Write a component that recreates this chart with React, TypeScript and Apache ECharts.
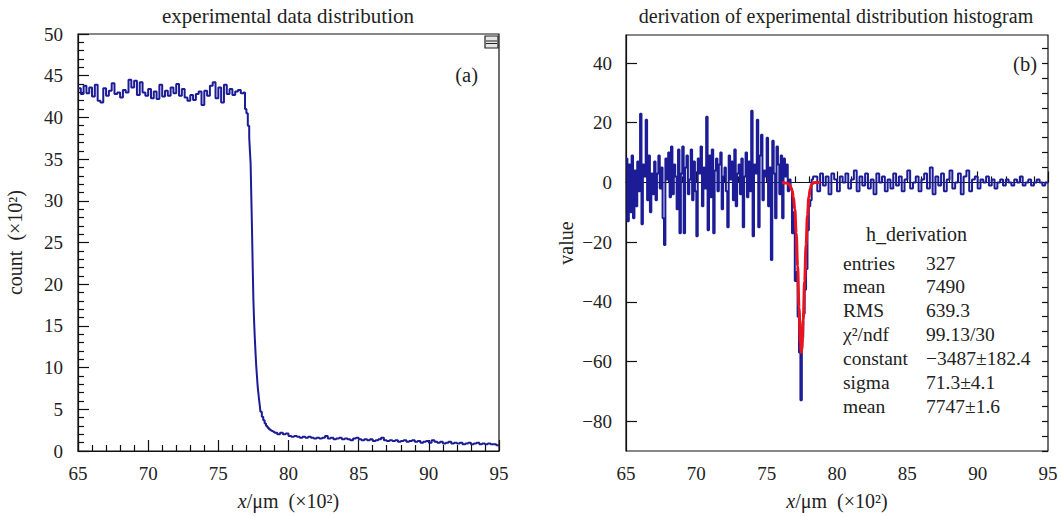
import React, { useEffect, useRef } from 'react';
import * as echarts from 'echarts';

const FONT = "'Liberation Serif', 'Times New Roman', serif";
const TEXT = '#222';
const BLUE = '#1c1c96';
const RED = '#e8141e';

// ---------- panel (a): experimental data distribution (counts ×10²) ----------
const plateauStart = 65.0;
const plateauBin = 0.2;
const plateauCounts = [
  43.5, 42.8, 43.8, 42.9, 43.6, 42.5, 43.9, 42.0, 41.8, 43.5,
  42.6, 43.2, 44.1, 42.8, 43.0, 42.4, 43.3, 43.0, 44.5, 43.6,
  44.4, 42.7, 44.2, 43.0, 42.6, 43.4, 42.3, 43.1, 42.2, 43.9,
  42.5, 43.2, 42.6, 43.6, 42.9, 44.0, 42.6, 43.4, 42.4, 42.0,
  42.7, 42.1, 42.8, 43.1, 41.5, 43.2, 42.6, 43.8, 44.2, 42.3,
  43.6, 41.8, 43.9, 42.8, 43.4, 42.7, 43.1, 43.3, 42.9,
];
const edgeX = [
  76.8, 76.9, 77.0, 77.1, 77.2, 77.25, 77.3, 77.35, 77.4, 77.45,
  77.5, 77.55, 77.6, 77.65, 77.7, 77.75, 77.8, 77.85, 77.9, 77.95,
  78.0, 78.1, 78.2, 78.3, 78.4, 78.5, 78.6, 78.7, 78.8, 78.9,
];
const edgeCounts = [
  43.0, 41.0, 40.5, 39.0, 37.6, 36.0, 34.5, 30.5, 26.5, 22.0,
  18.0, 15.5, 13.5, 11.8, 10.2, 9.0, 7.8, 7.0, 6.2, 5.5,
  4.7, 4.1, 3.7, 3.3, 3.0, 2.8, 2.6, 2.5, 2.4, 2.3,
];
const tailStart = 79.0;
const tailBin = 0.2;
const tailCounts = [
  2.2, 2.0, 2.2, 2.0, 2.1, 1.8, 1.7, 1.8, 1.7, 1.6,
  1.7, 1.6, 1.7, 1.6, 1.5, 1.6, 1.5, 1.6, 1.8, 1.5,
  1.6, 1.4, 1.5, 1.6, 1.4, 1.5, 1.4, 1.3, 1.5, 1.6,
  1.4, 1.3, 1.4, 1.3, 1.4, 1.2, 1.3, 1.4, 1.6, 1.3,
  1.2, 1.3, 1.2, 1.3, 1.1, 1.2, 1.3, 1.1, 1.2, 1.3,
  1.1, 1.2, 1.0, 1.1, 1.2, 1.0, 1.3, 1.1, 1.0, 1.1,
  0.9, 1.0, 1.1, 0.9, 1.0, 0.9, 1.0, 0.8, 0.9, 1.0,
  0.8, 0.9, 1.0, 0.8, 0.9, 0.8, 0.9, 0.8, 0.8, 0.7,
];

// ---------- panel (b): derivative histogram ----------
const derivFineStart = 65.0;
const derivFineBin = 0.1;
const derivFine = [
  8, -13, 6, -10, 9, -12, 4, -8, 7, -3,
  23, -14, 6, 2, 21, -6, 9, -10, 3, -4,
  7, -6, 3, 9, -2, 5, -12, -21, 8, 1,
  10, -5, 12, -4, 6, 2, -9, 11, -17, 3,
  12, -17, 5, 9, -4, 1, 11, -6, 7, -3,
  -18, 8, 3, 12, -8, 5, -2, 22, -16, 9,
  -5, 11, -17, 4, 8, -3, 6, 10, -9, 2,
  5, -3, -15, 9, 1, 7, -6, 11, -8, 3,
  6, -4, 8, -15, 2, 10, -5, 7, -3, 24,
  -18, 6, 3, 21, -15, 9, 16, -6, 4, 2,
  15, -8, 5, -26, 14, 3, -12, 12, 6, -4,
  9, -12, 8, 2, 6, -3,
  1, -2, -17, -10, -33, -30, -45, -57, -73, -52,
  -44, -36, -29, -16, -8, -6, 1, 2,
];
const derivTailStart = 78.4;
const derivTailBin = 0.2;
const derivTail = [
  2, -3, 3, -1, 2, -4, 3, 1,
  -3, 2, 0, 3, -2, 1, 4, -3, 2, -1,
  3, -2, 1, -4, 3, 0, 2, -3, 1, -2,
  3, -1, 2, -3, 1, 4, -2, 0, 2, -3,
  1, 3, -2, 5, -4, 2, -1, 3, -3, 1,
  4, -2, 0, 3, -4, 2, 4, -3, 1, 2,
  -2, 1, 0, 2, -1, 1, -2, 0, 1, -1,
  1, 0, -1, 1, 0, 2, -1, 0, 1, -1,
  0, 1, 0, -1, 0,
];
const fitX = [76.1, 76.4, 76.6, 76.8, 76.9, 77.0, 77.1, 77.2, 77.3, 77.4, 77.45, 77.5, 77.6, 77.7, 77.8, 77.9, 78.0, 78.1, 78.2, 78.4, 78.8];
const fitY = [0, -0.2, -0.6, -2.5, -5, -9, -17, -28, -42, -54, -57, -56, -46, -33, -21, -11, -5, -2, -0.6, 0, 0];

const statLabels = ['entries', 'mean', 'RMS', 'χ²/ndf', 'constant', 'sigma', 'mean'];
const statValues = ['327', '7490', '639.3', '99.13/30', '−3487±182.4', '71.3±4.1', '7747±1.6'];

const xRange = [65, 95];
const rightYLabels = [-80, -60, -40, -20, 0, 20, 40];
const rightYMinor = [-90, -85, -80, -75, -70, -65, -60, -55, -50, -45, -40, -35, -30, -25, -20, -15, -10, -5, 0, 5, 10, 15, 20, 25, 30, 35, 40, 45];

function leftData(): number[][] {
  const pts: number[][] = [];
  plateauCounts.forEach((v, i) => pts.push([plateauStart + i * plateauBin, v]));
  edgeCounts.forEach((v, i) => pts.push([edgeX[i], v]));
  tailCounts.forEach((v, i) => pts.push([tailStart + i * tailBin, v]));
  pts.push([xRange[1], tailCounts[tailCounts.length - 1]]);
  return pts;
}

function derivData(): number[][] {
  const pts: number[][] = [];
  derivFine.forEach((v, i) => pts.push([derivFineStart + i * derivFineBin, v]));
  derivTail.forEach((v, i) => pts.push([derivTailStart + i * derivTailBin, v]));
  pts.push([xRange[1], derivTail[derivTail.length - 1]]);
  return pts;
}

const labelStyle = { fontFamily: FONT, fontSize: 19, color: TEXT };
const nameStyle = {
  fontFamily: FONT,
  fontSize: 20,
  color: TEXT,
  rich: { it: { fontFamily: FONT, fontSize: 20, fontStyle: 'italic', color: TEXT } },
};

function xAxis(gridIndex: number) {
  return {
    gridIndex,
    type: 'value',
    min: xRange[0],
    max: xRange[1],
    interval: 5,
    name: '{it|x}/μm  (×10²)',
    nameLocation: 'middle',
    nameGap: 40,
    nameTextStyle: nameStyle,
    axisLine: { show: true, lineStyle: { color: '#111', width: 1.2 } },
    axisTick: { show: true, inside: true, length: 11, lineStyle: { color: '#111', width: 1.2 } },
    minorTick: { show: true, splitNumber: 5, length: 6, lineStyle: { color: '#111', width: 1.2 } },
    axisLabel: { ...labelStyle, margin: 13 },
    splitLine: { show: false },
  };
}

function buildOption() {
  const graphics: any[] = [
    { type: 'text', x: 288, y: 16, style: { text: 'experimental data distribution', fill: TEXT, fontFamily: FONT, fontSize: 21, align: 'center', verticalAlign: 'middle' } },
    { type: 'text', x: 836, y: 16, style: { text: 'derivation of experimental distribution histogram', fill: TEXT, fontFamily: FONT, fontSize: 20, align: 'center', verticalAlign: 'middle' } },
    { type: 'text', x: 478, y: 75, style: { text: '(a)', fill: TEXT, fontFamily: FONT, fontSize: 20.5, align: 'right', verticalAlign: 'middle' } },
    { type: 'text', x: 1037, y: 64, style: { text: '(b)', fill: TEXT, fontFamily: FONT, fontSize: 20.5, align: 'right', verticalAlign: 'middle' } },
    { type: 'rect', shape: { x: 485, y: 36, width: 13, height: 12 }, style: { fill: '#e6e6e6', stroke: '#222', lineWidth: 1.2 } },
    { type: 'line', shape: { x1: 486, y1: 41, x2: 497, y2: 41 }, style: { stroke: '#222', lineWidth: 1 } },
    { type: 'line', shape: { x1: 486, y1: 43.5, x2: 497, y2: 43.5 }, style: { stroke: '#222', lineWidth: 1 } },
    { type: 'text', x: 866, y: 234, style: { text: 'h_derivation', fill: TEXT, fontFamily: FONT, fontSize: 20, align: 'left', verticalAlign: 'middle' } },
  ];
  statLabels.forEach((s, i) => {
    graphics.push({ type: 'text', x: 843, y: 263 + i * 23.9, style: { text: s, fill: TEXT, fontFamily: FONT, fontSize: 19.5, align: 'left', verticalAlign: 'middle' } });
    graphics.push({ type: 'text', x: 926, y: 263 + i * 23.9, style: { text: statValues[i], fill: TEXT, fontFamily: FONT, fontSize: 19.5, align: 'left', verticalAlign: 'middle' } });
  });

  return {
    animation: false,
    backgroundColor: '#ffffff',
    grid: [
      { left: 78, top: 34, width: 421, height: 417, show: true, borderColor: '#111', borderWidth: 1.2, backgroundColor: 'transparent' },
      { left: 626, top: 35, width: 422, height: 416, show: true, borderColor: '#111', borderWidth: 1.2, backgroundColor: 'transparent' },
    ],
    xAxis: [xAxis(0), xAxis(1)],
    yAxis: [
      {
        gridIndex: 0,
        type: 'value',
        min: 0,
        max: 50,
        interval: 5,
        name: 'count  (×10²)',
        nameLocation: 'middle',
        nameGap: 53,
        nameTextStyle: nameStyle,
        axisLine: { show: true, lineStyle: { color: '#111', width: 1.2 } },
        axisTick: { show: true, inside: true, length: 11, lineStyle: { color: '#111', width: 1.2 } },
        minorTick: { show: true, splitNumber: 5, length: 6, lineStyle: { color: '#111', width: 1.2 } },
        axisLabel: { ...labelStyle, margin: 15 },
        splitLine: { show: false },
      },
      {
        gridIndex: 1,
        type: 'value',
        min: -90,
        max: 49.4,
        interval: 10,
        name: 'value',
        nameLocation: 'middle',
        nameGap: 50,
        nameTextStyle: nameStyle,
        axisLine: { show: true, lineStyle: { color: '#111', width: 1.2 } },
        axisTick: { show: true, inside: true, length: 11, customValues: rightYLabels, lineStyle: { color: '#111', width: 1.2 } },
        axisLabel: {
          ...labelStyle,
          margin: 14,
          customValues: rightYLabels,
          formatter: (v: number) => (v % 20 === 0 ? String(v).replace('-', '−') : ''),
        },
        splitLine: { show: false },
      },
      {
        gridIndex: 1,
        type: 'value',
        min: -90,
        max: 49.4,
        interval: 5,
        axisLine: { show: false },
        axisTick: { show: true, inside: true, length: 6, customValues: rightYMinor, lineStyle: { color: '#111', width: 1.2 } },
        axisLabel: { show: false },
        splitLine: { show: false },
      },
    ],
    series: [
      {
        type: 'line',
        xAxisIndex: 0,
        yAxisIndex: 0,
        step: 'end',
        showSymbol: false,
        data: leftData(),
        lineStyle: { color: BLUE, width: 2 },
        itemStyle: { color: BLUE },
      },
      {
        type: 'line',
        xAxisIndex: 1,
        yAxisIndex: 1,
        step: 'end',
        showSymbol: false,
        data: derivData(),
        lineStyle: { color: BLUE, width: 2 },
        itemStyle: { color: BLUE },
      },
      {
        type: 'line',
        xAxisIndex: 1,
        yAxisIndex: 1,
        smooth: 0.4,
        smoothMonotone: 'x',
        showSymbol: false,
        data: fitX.map((x, i) => [x, fitY[i]]),
        lineStyle: { color: RED, width: 3 },
        itemStyle: { color: RED },
        z: 3,
      },
    ],
    graphic: graphics,
  };
}

export default function App() {
  const ref = useRef<HTMLDivElement>(null);
  useEffect(() => {
    if (!ref.current) return;
    const chart = echarts.init(ref.current, null, { renderer: 'svg' });
    chart.setOption(buildOption() as any);
    return () => chart.dispose();
  }, []);
  return (
    <div
      ref={ref}
      style={{ position: 'fixed', left: 0, top: 0, width: 1062, height: 516, background: '#fff' }}
    />
  );
}
